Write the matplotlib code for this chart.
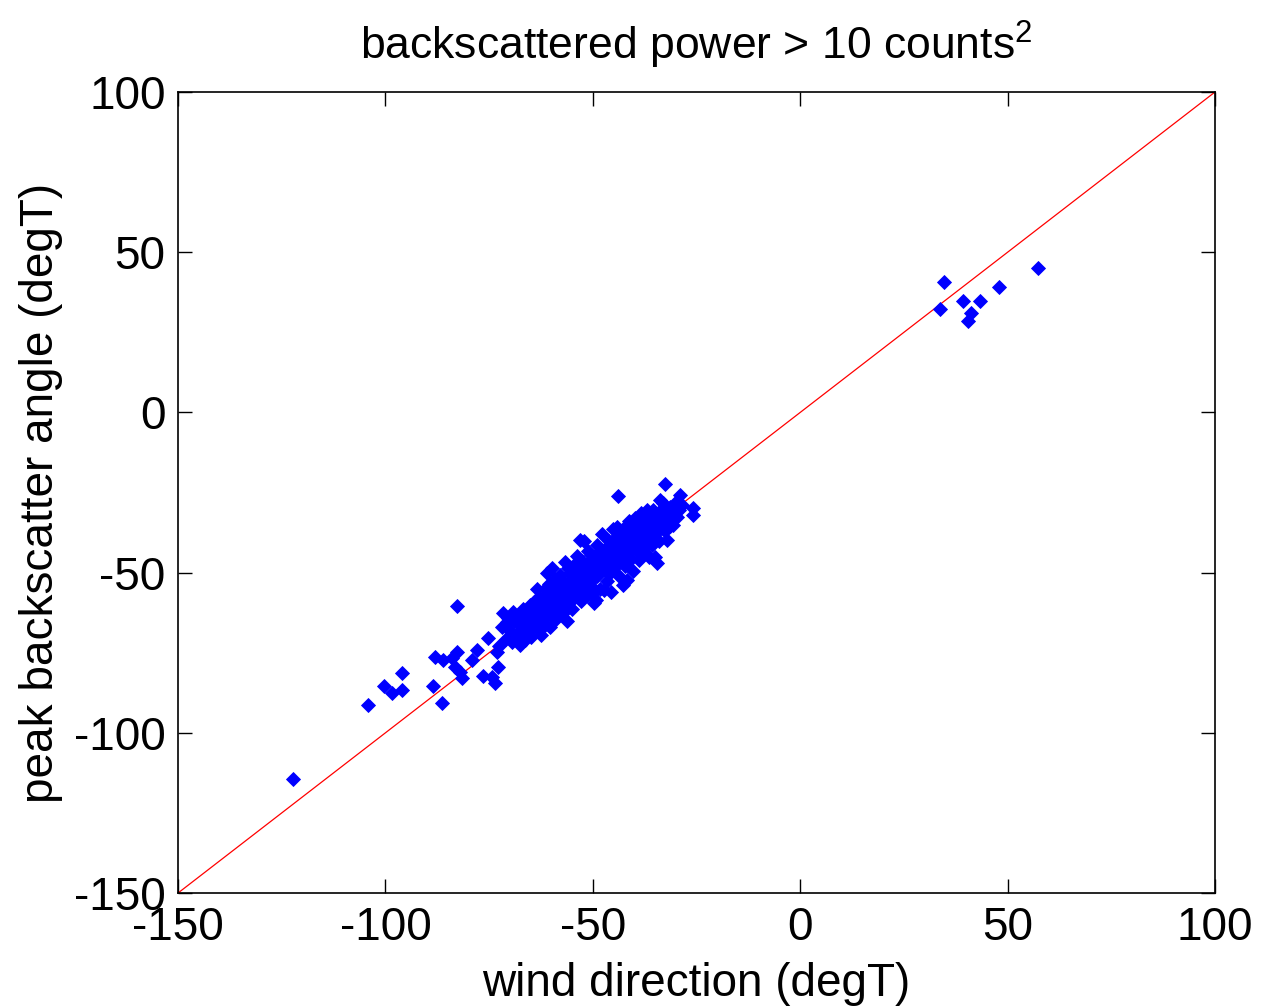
import numpy as np
from matplotlib import pyplot as plt

plt.rcParams['font.family'] = ['Liberation Sans', 'DejaVu Sans']
plt.rcParams['mathtext.fontset'] = 'custom'
plt.rcParams['mathtext.rm'] = 'Liberation Sans'
plt.rcParams['axes.unicode_minus'] = False

# wind direction (degT) vs peak backscatter angle (degT)
# outlying points, lower tail
tail_x = [-122.3, -104.2, -100.3, -98.4, -96.0, -96.0, -88.5, -86.4, -82.7, -88.0,
          -86.1, -84.0, -82.7, -83.2, -82.0, -81.5, -77.9, -79.1, -76.5, -74.3,
          -73.6, -72.9, -75.3, -73.1]
tail_y = [-114.4, -91.3, -85.4, -87.6, -86.6, -81.3, -85.4, -90.7, -60.4, -76.3,
          -77.3, -76.7, -74.8, -79.5, -81.0, -82.9, -74.2, -77.3, -82.3, -82.6,
          -84.5, -79.5, -70.4, -74.8]

# main cluster
main_x = [-71.6, -70.4, -69.2, -68.0, -66.9, -71.8, -70.1, -68.6, -66.3, -70.9,
          -69.4, -67.6, -66.0, -65.4, -72.5, -67.5, -65.5, -64.6,
          -65.0, -64.2, -63.5, -63.0, -62.6, -62.0, -61.6, -61.0, -60.7, -60.3,
          -64.8, -63.8, -62.9, -62.2, -61.3, -60.6, -60.1, -65.8, -63.2, -61.8,
          -59.8, -59.5, -59.2, -58.9, -58.5, -58.2, -57.8, -57.5, -57.1, -56.8,
          -56.5, -56.2, -55.9, -55.6, -55.2, -54.9, -54.6, -54.3, -59.0, -57.0,
          -55.5, -58.0, -56.0, -54.5,
          -53.9, -53.6, -53.2, -53.1, -52.8, -52.5, -52.1, -51.8, -51.5, -51.1,
          -50.8, -50.5, -50.1, -49.8, -49.5, -49.2, -48.9, -48.6, -48.3, -53.0,
          -51.0, -49.0, -52.0, -50.0,
          -47.9, -47.5, -47.2, -46.9, -46.5, -46.2, -45.9, -45.5, -45.2, -44.9,
          -44.6, -44.2, -43.9, -43.8, -43.5, -43.1, -42.8, -42.5, -42.2, -47.0,
          -45.0, -43.0, -46.0, -44.0,
          -41.8, -41.5, -41.2, -40.9, -40.5, -40.2, -39.8, -39.5, -39.1, -38.8,
          -38.5, -38.2, -37.8, -37.5, -37.0, -36.8, -36.5, -36.2, -41.0, -39.0,
          -37.2, -40.0,
          -35.8, -35.4, -35.0, -34.6, -34.3, -33.8, -33.5, -33.0, -32.6, -32.2,
          -31.8, -31.3, -30.7, -30.2, -29.6, -29.0, -28.5, -25.8, -25.8, -34.0,
          -32.5, -36.0]
main_y = [-62.7, -64.3, -62.4, -63.8, -61.5, -67.0, -67.8, -69.2, -71.0, -70.6,
          -71.8, -66.4, -64.9, -68.6, -73.0, -72.5, -62.0, -65.5,
          -70.2, -59.3, -55.0, -61.8, -69.6, -57.5, -64.2, -50.0, -60.5, -67.0,
          -62.8, -67.0, -64.8, -60.0, -54.8, -57.2, -63.0, -66.8, -58.0, -66.8,
          -48.5, -53.0, -58.5, -64.6, -55.8, -61.0, -50.8, -57.2, -62.5, -46.8,
          -53.5, -65.1, -59.2, -50.2, -55.6, -61.5, -47.6, -52.4, -52.0, -55.0,
          -57.5, -59.8, -48.5, -58.0,
          -44.8, -49.8, -55.5, -39.8, -59.0, -46.5, -40.1, -52.5, -57.0, -43.2,
          -49.0, -54.2, -46.0, -59.5, -51.5, -58.6, -41.5, -47.8, -55.0, -52.0,
          -50.0, -44.2, -48.5, -56.5,
          -38.0, -43.5, -55.4, -49.0, -52.5, -40.2, -45.5, -56.0, -36.5, -48.5,
          -42.0, -35.7, -26.1, -51.0, -39.0, -45.0, -53.8, -36.0, -48.0, -46.2,
          -39.5, -42.0, -50.5, -45.8,
          -52.3, -40.5, -34.0, -45.8, -38.2, -49.5, -33.0, -42.5, -37.0, -46.0,
          -31.5, -40.0, -35.5, -44.0, -30.5, -38.0, -45.0, -34.0, -43.0, -40.0,
          -41.5, -36.0,
          -41.5, -30.5, -45.1, -47.1, -36.0, -27.3, -33.0, -28.4, -22.3, -39.8,
          -31.5, -35.5, -35.1, -30.0, -32.5, -25.8, -29.0, -29.9, -32.0, -40.0,
          -37.0, -33.0]

# extra points filling the dense core of the cluster
core_x = [-70.8, -69.0, -67.2, -66.5, -64.0, -63.0, -62.4, -61.2, -60.0, -59.4,
          -58.6, -57.9, -57.3, -56.7, -55.8, -55.0, -54.2, -53.5, -52.9, -52.3,
          -51.7, -51.2, -50.6, -50.0, -49.4, -48.8, -48.1, -47.6, -47.0, -46.4,
          -45.8, -45.3, -44.7, -44.1, -43.4, -42.9, -42.3, -41.7, -41.1, -40.6,
          -40.0, -39.4, -38.9, -38.3, -37.7, -37.1, -36.6, -36.0, -35.3, -34.7,
          -34.1, -33.4, -32.9, -32.1, -31.5, -30.8, -30.0, -29.3,
          -65.2, -63.7, -62.0, -60.5, -59.0, -57.6, -56.3, -54.8, -53.4, -52.0,
          -50.4, -49.0, -47.4, -46.0, -44.5, -43.2, -41.9, -40.4, -39.1, -37.9,
          -36.4, -35.1, -33.7, -32.3]
core_y = [-65.5, -65.0, -69.8, -68.0, -62.5, -66.0, -59.0, -61.0, -55.5, -62.0,
          -57.0, -54.0, -59.8, -56.0, -53.0, -57.5, -50.0, -52.8, -48.0, -50.5,
          -54.5, -47.0, -51.5, -48.8, -45.5, -49.5, -44.5, -46.8, -42.5, -44.0,
          -47.2, -41.0, -43.0, -39.5, -41.8, -38.5, -44.2, -37.5, -39.0, -42.2,
          -38.5, -35.5, -40.8, -36.8, -33.5, -39.0, -35.0, -37.8, -33.8, -35.0,
          -31.5, -34.5, -30.5, -33.5, -29.5, -31.0, -28.0, -30.5,
          -60.0, -58.5, -62.2, -53.5, -56.0, -52.0, -58.0, -53.2, -47.5, -55.0,
          -44.5, -51.2, -49.0, -43.0, -46.5, -40.0, -43.8, -36.5, -43.5, -33.0,
          -40.8, -38.0, -30.8, -35.8]

# outlying points, upper right
high_x = [34.7, 33.7, 39.2, 43.3, 41.2, 40.5, 47.9, 57.3]
high_y = [40.7, 32.3, 34.8, 34.8, 31.0, 28.5, 39.1, 45.1]

wind = np.array(tail_x + main_x + core_x + high_x)
peak = np.array(tail_y + main_y + core_y + high_y)

# 1:1 reference line
ref = np.array([-150, 100])

fig = plt.figure(figsize=(12.61, 10.07), dpi=100)
ax = fig.add_axes([0.1412, 0.1132, 0.8223, 0.7954])

ax.plot(ref, ref, color='r', linewidth=0.9)
ax.plot(wind, peak, linestyle='none', marker='D', markersize=6.9,
        color='b', markeredgecolor='b', markeredgewidth=0.6)

ax.set_xlim(-150, 100)
ax.set_ylim(-150, 100)
ax.set_xticks([-150, -100, -50, 0, 50, 100])
ax.set_yticks([-150, -100, -50, 0, 50, 100])
ax.tick_params(direction='in', top=True, right=True, length=10, width=1,
               labelsize=33, pad=9)
for s in ax.spines.values():
    s.set_linewidth(1.2)

ax.set_xlabel('wind direction (degT)', fontsize=33, labelpad=9)
ax.set_ylabel('peak backscatter angle (degT)', fontsize=33, labelpad=8)
ax.set_title('backscattered power > 10 counts$^2$', fontsize=32, pad=23)

plt.savefig('out.png', dpi=100)
